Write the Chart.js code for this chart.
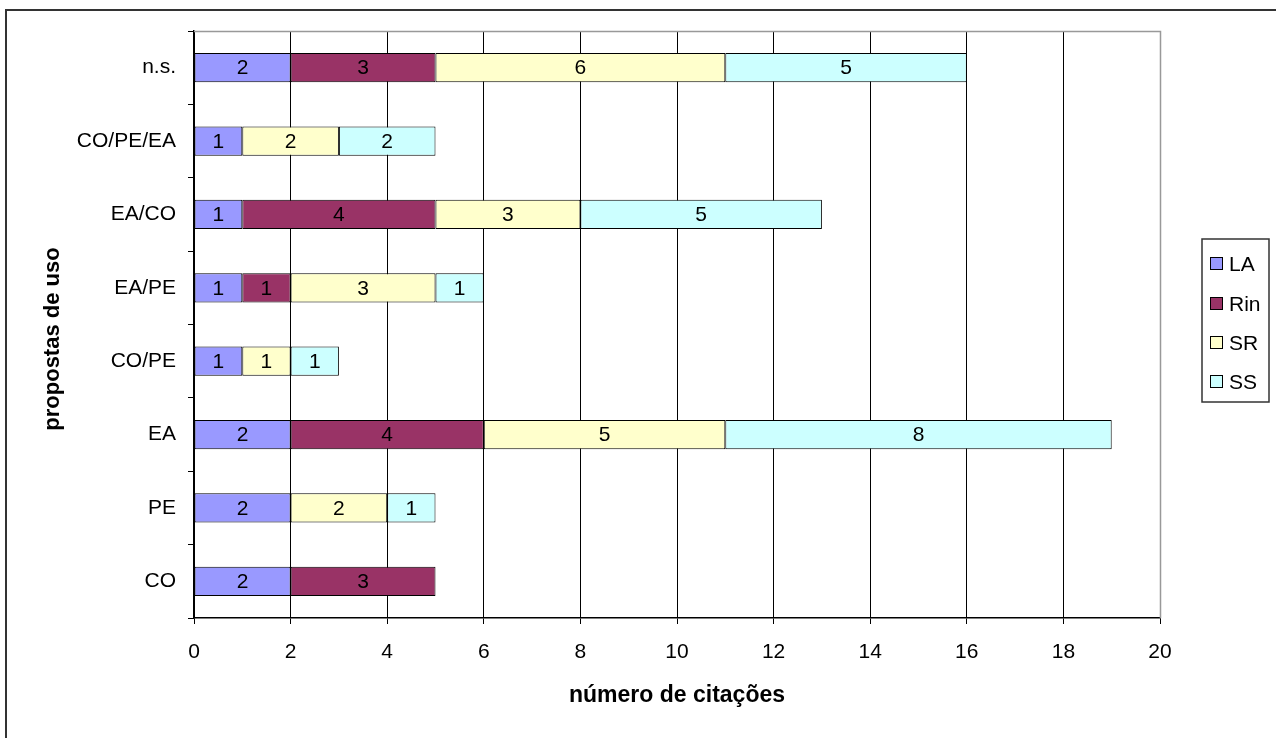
<!DOCTYPE html>
<html>
<head>
<meta charset="utf-8">
<title>propostas de uso</title>
<script src="https://cdn.jsdelivr.net/npm/chart.js@4.4.1/dist/chart.umd.min.js"></script>
<style>
  html, body { margin: 0; padding: 0; background: #ffffff; }
  #wrap { position: relative; width: 1276px; height: 738px; }
</style>
</head>
<body>
<div id="wrap"><canvas id="chart" width="1276" height="738"></canvas></div>
<script>
// Categories, top to bottom
const categories = ['n.s.', 'CO/PE/EA', 'EA/CO', 'EA/PE', 'CO/PE', 'EA', 'PE', 'CO'];

// Citation counts per group (null = no citations)
const seriesLA  = [2, 1, 1, 1, 1, 2, 2, 2];
const seriesRin = [3, null, 4, 1, null, 4, null, 3];
const seriesSR  = [6, 2, 3, 3, 1, 5, 2, null];
const seriesSS  = [5, 2, 5, 1, 1, 8, 1, null];

const seriesNames = ['LA', 'Rin', 'SR', 'SS'];
const seriesColors = ['#9999FF', '#993366', '#FFFFCC', '#CCFFFF'];

const xTicks = [0, 2, 4, 6, 8, 10, 12, 14, 16, 18, 20];

const yTitle = 'propostas de uso';

const FONT = "'Liberation Sans', Arial, sans-serif";

// Value labels centred inside each bar segment
const barLabels = {
  id: 'barLabels',
  afterDatasetsDraw(chart) {
    const ctx = chart.ctx;
    ctx.save();
    ctx.font = '21px ' + FONT;
    ctx.fillStyle = '#000';
    ctx.textAlign = 'center';
    ctx.textBaseline = 'middle';
    chart.data.datasets.forEach((ds, di) => {
      const meta = chart.getDatasetMeta(di);
      meta.data.forEach((el, i) => {
        const v = ds.data[i];
        if (v === null || v === undefined) return;
        ctx.fillText(String(v), (el.x + el.base) / 2, el.y + 1);
      });
    });
    ctx.restore();
  }
};

// Outer frame, plot-area border, vertical axis title and the boxed legend
const frame = {
  id: 'frame',
  beforeDraw(chart) {
    const ctx = chart.ctx;
    ctx.save();
    ctx.fillStyle = '#fff';
    ctx.fillRect(0, 0, chart.width, chart.height);
    ctx.strokeStyle = '#333';
    ctx.lineWidth = 2;
    ctx.beginPath();
    ctx.moveTo(6, chart.height + 2);
    ctx.lineTo(6, 10);
    ctx.lineTo(chart.width + 2, 10);
    ctx.stroke();
    ctx.restore();
  },
  afterDraw(chart) {
    const ctx = chart.ctx;
    const a = chart.chartArea;
    ctx.save();
    // plot area top/right edges
    ctx.strokeStyle = '#999';
    ctx.lineWidth = 1.5;
    ctx.beginPath();
    ctx.moveTo(a.left, a.top + 0.5);
    ctx.lineTo(a.right + 0.5, a.top + 0.5);
    ctx.lineTo(a.right + 0.5, a.bottom);
    ctx.stroke();

    // vertical axis title
    ctx.save();
    ctx.translate(53, 339);
    ctx.rotate(-Math.PI / 2);
    ctx.font = 'bold 22px ' + FONT;
    ctx.fillStyle = '#000';
    ctx.textAlign = 'center';
    ctx.textBaseline = 'middle';
    ctx.fillText(yTitle, 0, 0);
    ctx.restore();

    // legend box
    const lx = 1202, ly = 239, lw = 67, lh = 163;
    ctx.strokeStyle = '#333';
    ctx.lineWidth = 1.5;
    ctx.strokeRect(lx, ly, lw, lh);
    ctx.font = '21px ' + FONT;
    ctx.textAlign = 'left';
    ctx.textBaseline = 'middle';
    const rows = [264, 304, 343, 382];
    chart.data.datasets.forEach((ds, i) => {
      const cy = rows[i];
      ctx.fillStyle = ds.backgroundColor;
      ctx.fillRect(1210.5, cy - 6.5, 12, 12);
      ctx.strokeStyle = '#000';
      ctx.lineWidth = 1;
      ctx.strokeRect(1210.5, cy - 6.5, 12, 12);
      ctx.fillStyle = '#000';
      ctx.fillText(ds.label, 1229, cy + 1);
    });
    ctx.restore();
  }
};

const datasets = [seriesLA, seriesRin, seriesSR, seriesSS].map((d, i) => ({
  label: seriesNames[i],
  data: d,
  backgroundColor: seriesColors[i],
  borderColor: '#000',
  borderWidth: 1,
  borderSkipped: false,
  categoryPercentage: 1.0,
  barPercentage: 0.4
}));

new Chart(document.getElementById('chart'), {
  type: 'bar',
  data: { labels: categories, datasets },
  plugins: [frame, barLabels],
  options: {
    indexAxis: 'y',
    responsive: false,
    animation: false,
    layout: { padding: { left: 0, top: 31, right: 116, bottom: 0 } },
    plugins: {
      legend: { display: false },
      tooltip: { enabled: false }
    },
    scales: {
      x: {
        stacked: true,
        min: 0,
        max: 20,
        afterBuildTicks(scale) { scale.ticks = xTicks.map(v => ({ value: v })); },
        afterFit(scale) { scale.height = 120; },
        grid: {
          color: ctx => (ctx.index === xTicks.length - 1 ? '#999' : '#000'),
          lineWidth: 1,
          tickLength: 6,
          tickColor: '#000'
        },
        border: { display: true, color: '#000', width: 1.5 },
        ticks: {
          color: '#000',
          font: { family: FONT, size: 21 },
          padding: 16,
          maxRotation: 0
        },
        title: {
          display: true,
          text: 'número de citações',
          color: '#000',
          font: { family: FONT, size: 23, weight: 'bold' },
          padding: { top: 0, bottom: 29 }
        }
      },
      y: {
        stacked: true,
        afterFit(scale) { scale.width = 194; },
        grid: {
          offset: true,
          drawOnChartArea: false,
          tickLength: 6,
          color: '#000',
          tickColor: '#000'
        },
        border: { display: true, color: '#000', width: 1.5 },
        ticks: {
          color: '#000',
          font: { family: FONT, size: 21 },
          padding: 12
        },
        title: { display: false }
      }
    }
  }
});
</script>
</body>
</html>
